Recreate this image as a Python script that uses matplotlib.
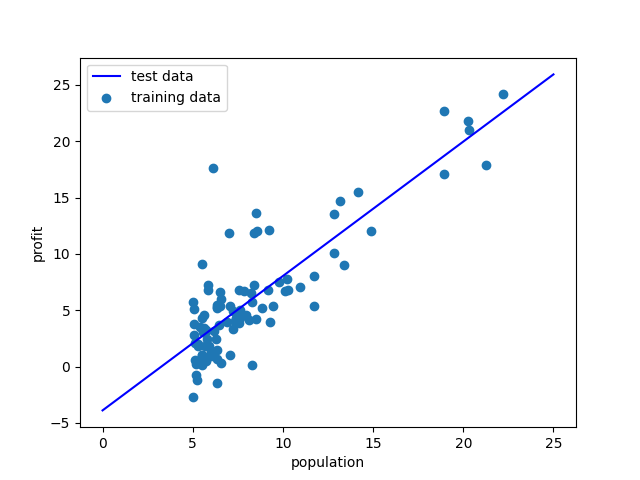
import matplotlib
matplotlib.use("Agg")
import matplotlib.pyplot as plt

population = [6.1101, 5.5277, 8.5186, 7.0032, 5.8598, 8.3829, 7.4764, 8.5781, 6.4862, 5.0546,
              5.7107, 14.164, 5.734, 8.4084, 5.6407, 5.3794, 6.3654, 5.1301, 6.4296, 7.0708,
              6.1891, 20.27, 5.4901, 6.3261, 5.5649, 18.945, 12.828, 10.957, 13.176, 22.203,
              5.2524, 6.5894, 9.2482, 5.8918, 8.2111, 7.9334, 8.0959, 5.6063, 12.836, 6.3534,
              5.4069, 6.8825, 11.708, 5.7737, 7.8247, 7.0931, 5.0702, 5.8014, 11.7, 5.5416,
              7.5402, 5.3077, 7.4239, 7.6031, 6.3328, 6.3589, 6.2742, 5.6397, 9.3102, 9.4536,
              8.8254, 5.1793, 21.279, 14.908, 18.959, 7.2182, 8.2951, 10.236, 5.4994, 20.341,
              10.136, 7.3345, 6.0062, 7.2259, 5.0269, 6.5479, 7.5386, 5.0365, 10.274, 5.1077,
              5.7292, 5.1884, 6.3557, 9.7687, 6.5159, 8.5172, 9.1802, 6.002, 5.5204, 5.0594,
              5.7077, 7.6366, 5.8707, 5.3054, 8.2934, 13.394, 5.4369]
profit = [17.592, 9.1302, 13.662, 11.854, 6.8233, 11.886, 4.3483, 12.0, 6.5987, 3.8166,
          3.2522, 15.505, 3.1551, 7.2258, 0.71618, 3.5129, 5.3048, 0.56077, 3.6518, 5.3893,
          3.1386, 21.767, 4.263, 5.1875, 3.0825, 22.638, 13.501, 7.0467, 14.692, 24.147,
          -1.22, 5.9966, 12.134, 1.8495, 6.5426, 4.5623, 4.1164, 3.3928, 10.117, 5.4974,
          0.55657, 3.9115, 5.3854, 2.4406, 6.7318, 1.0463, 5.1337, 1.844, 8.0043, 1.0179,
          6.7504, 1.8396, 4.2885, 4.9981, 1.4233, -1.4211, 2.4756, 4.6042, 3.9624, 5.4141,
          5.1694, -0.74279, 17.929, 12.054, 17.054, 4.8852, 5.7442, 7.7754, 1.0173, 20.992,
          6.6799, 4.0259, 1.2784, 3.3411, -2.6807, 0.29678, 3.8845, 5.7014, 6.7526, 2.0576,
          0.47953, 0.20421, 0.67861, 7.5435, 5.3436, 4.2415, 6.7981, 0.92695, 0.152, 2.8214,
          1.8451, 4.2959, 7.2029, 1.9869, 0.14454, 9.0551, 0.61705]

line_x = [0, 25]
line_y = [-3.896, 25.93]

fig, ax = plt.subplots(figsize=(6.4, 4.8), dpi=100)
ax.plot(line_x, line_y, color='b', label='test data')
ax.scatter(population, profit, label='training data')
ax.set_xlabel('population')
ax.set_ylabel('profit')
ax.legend(loc='upper left')
fig.savefig('out.png')
